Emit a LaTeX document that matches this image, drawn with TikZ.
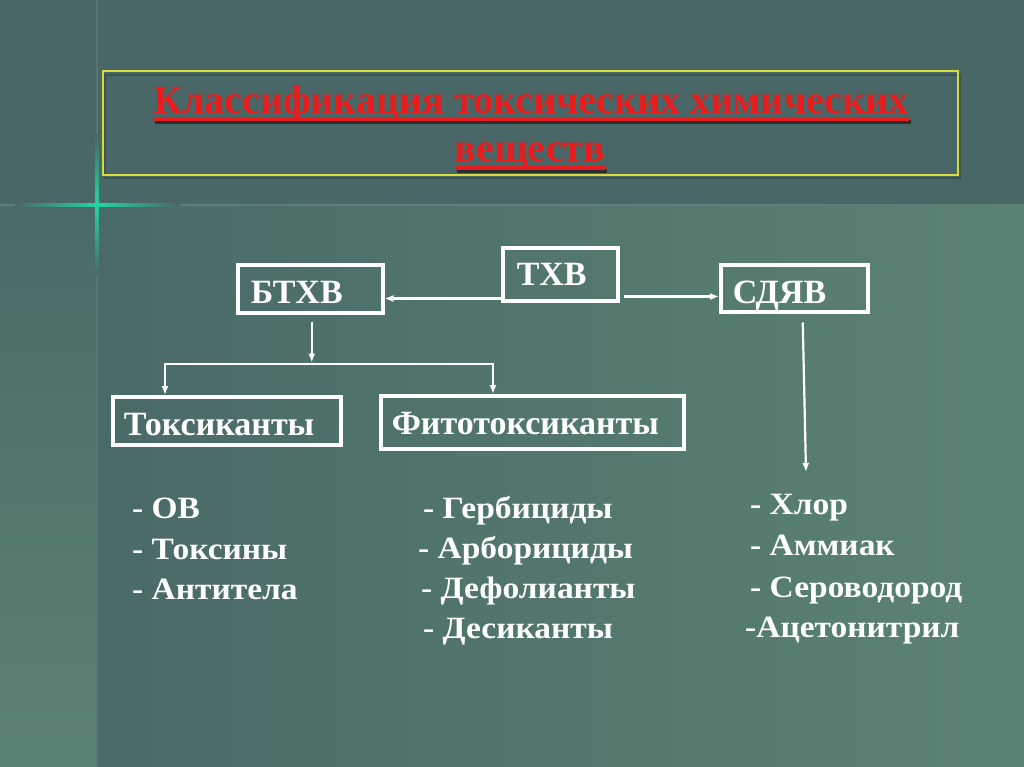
\documentclass[tikz,border=0pt]{standalone}
\usepackage{fontspec}
\setmainfont{Liberation Serif}
\newfontfamily\listfont[FakeStretch=1.08]{Liberation Serif}
\usetikzlibrary{arrows.meta}
\definecolor{bgtop}{HTML}{4A6767}
\definecolor{bgl}{HTML}{4A6A68}
\definecolor{bgr}{HTML}{5B8373}
\definecolor{titred}{HTML}{E81C1C}
\definecolor{shadowc}{HTML}{253131}
\definecolor{glow}{HTML}{22D6A0}
\definecolor{ylw}{HTML}{DADA3C}
\definecolor{hline}{HTML}{5E807B}
\definecolor{vline}{HTML}{567573}
\definecolor{boxshadow}{HTML}{3A5454}
\begin{document}
\begin{tikzpicture}[x=1pt,y=-1pt,
  titlefont/.style={font=\fontsize{40}{46}\selectfont\bfseries, inner sep=0pt},
  boxlabel/.style={draw=white, line width=3.5pt, text=white,
    font=\fontsize{34}{40}\selectfont\bfseries, align=left, inner ysep=0pt, anchor=north west},
  item/.style={text=white, font=\listfont\fontsize{31}{36}\selectfont\bfseries, inner sep=0pt, anchor=base west},
  conn/.style={draw=white, line width=2.2pt, -{Latex[length=9pt,width=7pt]}},
  plain/.style={draw=white, line width=2.2pt}]
\useasboundingbox (0,0) rectangle (1024,767);
% background
\fill[bgtop] (0,0) rectangle (1024,205);
\shade[left color=bgl, right color=bgr] (97,205) rectangle (1024,767);
\shade[top color=bgl, bottom color=bgr] (0,205) rectangle (97,767);
\draw[hline, line width=1.2pt] (0,205) -- (1024,205);
\draw[vline, line width=1.2pt] (97,0) -- (97,767);
\shade[left color=bgtop, right color=bgtop, middle color=glow] (15,203.5) rectangle (180,206.5);
\shade[top color=bgtop, bottom color=bgl, middle color=glow] (95.5,135) rectangle (98.5,275);
% title box
\draw[boxshadow, line width=1.2pt] (105,75) rectangle (960,178);
\node[draw=ylw, line width=1.6pt, minimum width=855pt, minimum height=104pt, anchor=north west, inner sep=0pt] (tbox) at (102,70) {};
% title
\node[titlefont, text=titred, anchor=base] (t1) at (531,114) {Классификация токсических химических};
\node[titlefont, text=titred, anchor=base] (t2) at (530,162) {веществ};
\draw[shadowc, line width=3.5pt] ([xshift=2pt,yshift=-8pt]t1.base west) -- ([xshift=2pt,yshift=-8pt]t1.base east);
\draw[shadowc, line width=3.5pt] ([xshift=2pt,yshift=-9pt]t2.base west) -- ([xshift=2pt,yshift=-9pt]t2.base east);
\draw[titred, line width=3.5pt] ([yshift=-5pt]t1.base west) -- ([yshift=-5pt]t1.base east);
\draw[titred, line width=3.5pt] ([yshift=-6pt]t2.base west) -- ([yshift=-6pt]t2.base east);
% boxes
\node[boxlabel, inner xsep=13pt, text width=119pt, text height=39pt, text depth=9pt] (btxv) at (236,263) {БТХВ};
\node[boxlabel, inner xsep=14pt, text width=87pt, text height=38pt, text depth=15pt] (txv) at (501,246) {ТХВ};
\node[boxlabel, inner xsep=12pt, text width=123pt, text height=39pt, text depth=8pt] (sdyav) at (719,263) {СДЯВ};
\node[boxlabel, inner xsep=11pt, text width=206pt, text height=39pt, text depth=9pt] (toks) at (111,395) {Токсиканты};
\node[boxlabel, inner xsep=11pt, text width=281pt, text height=39pt, text depth=14pt] (fito) at (379,394) {Фитотоксиканты};
% connectors
\path ([yshift=4pt]txv.south west) coordinate (a1);
\draw[conn] (a1) -- (a1 -| btxv.east);
\path ([xshift=4pt,yshift=6pt]txv.south east) coordinate (a2);
\draw[conn] (a2) -- (a2 -| sdyav.west);
\coordinate (jl) at (165,364);
\coordinate (jr) at (493,364);
\draw[conn] ([xshift=1.5pt,yshift=-7pt]btxv.south) -- ++(0,41);
\draw[plain] (jl) -- (jr);
\draw[conn] ([yshift=1pt]jl) -- (jl |- toks.north);
\draw[conn] ([yshift=1pt]jr) -- (jr |- fito.north);
\coordinate (sd) at (806,472);
\draw[conn] ([xshift=8.5pt,yshift=-9pt]sdyav.south) -- (sd);
% lists
\node[item] (l1) at (132,518) {- ОВ};
\node[item] (l2) at (132,559) {- Токсины};
\node[item] (l3) at (132,599) {- Антитела};
\node[item] (m1) at (423,518) {- Гербициды};
\node[item] (m2) at (418,558) {- Арборициды};
\node[item] (m3) at (421,598) {- Дефолианты};
\node[item] (m4) at (423,638) {- Десиканты};
\node[item] (r1) at (750,514) {- Хлор};
\node[item] (r2) at (750,555) {- Аммиак};
\node[item] (r3) at (750,597) {- Сероводород};
\node[item] (r4) at (745,637) {-Ацетонитрил};
\end{tikzpicture}
\end{document}
